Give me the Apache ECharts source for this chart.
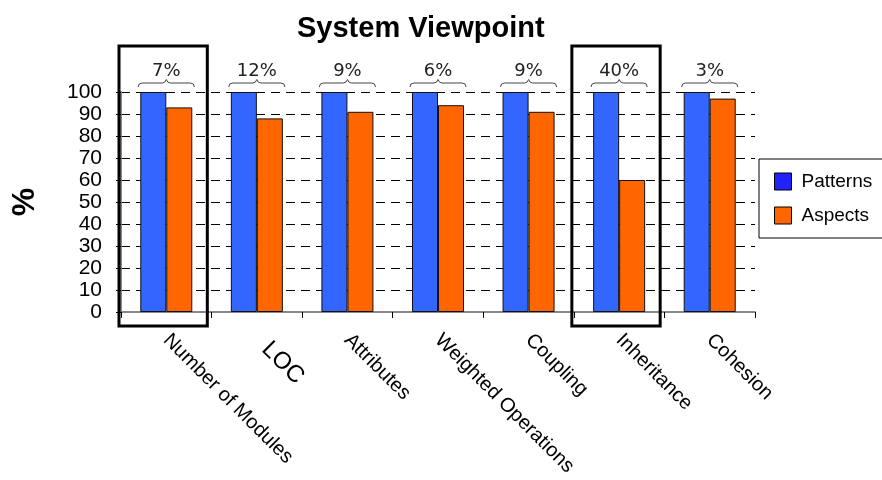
<!DOCTYPE html>
<html>
<head>
<meta charset="utf-8">
<title>System Viewpoint</title>
<script src="https://cdn.jsdelivr.net/npm/echarts@6/dist/echarts.min.js"></script>
<style>
  html, body { margin: 0; padding: 0; background: #fff; }
  #chart { width: 882px; height: 480px; }
</style>
</head>
<body>
<div id="chart"></div>
<script>
// Metric categories along the x axis
const categories = ['Number of Modules', 'LOC', 'Attributes', 'Weighted Operations', 'Coupling', 'Inheritance', 'Cohesion'];
// Percentages for each implementation
const patterns = [100, 100, 100, 100, 100, 100, 100];
const aspects = [93, 88, 91, 94, 91, 60, 97];
// Difference labels shown above each pair of bars
const gapLabels = ['7%', '12%', '9%', '6%', '9%', '40%', '3%'];
// Categories framed with a heavy outline
const highlighted = ['Number of Modules', 'Inheritance'];
// Y axis ticks
const yTicks = [0, 10, 20, 30, 40, 50, 60, 70, 80, 90, 100];

const FONT = '"Liberation Sans", Arial, sans-serif';

const chart = echarts.init(document.getElementById('chart'), null, { renderer: 'canvas' });

const braceData = categories.map((c, i) => [i, patterns[i], gapLabels[i]]);
const boxData = highlighted.map(name => [categories.indexOf(name)]);

function renderBrace(params, api) {
  const p = api.coord([api.value(0), api.value(1)]);
  const x = p[0], y = p[1];
  const h = api.size([1, 0])[0] * 0.31;
  const path = [
    'M', x - h, y - 5,
    'Q', x - h, y - 9, x - h + 4, y - 9,
    'L', x - 4, y - 9,
    'Q', x - 1, y - 9, x, y - 12.5,
    'Q', x + 1, y - 9, x + 4, y - 9,
    'L', x + h - 4, y - 9,
    'Q', x + h, y - 9, x + h, y - 5
  ].join(' ');
  return {
    type: 'group',
    children: [
      {
        type: 'path',
        shape: { pathData: path },
        style: { fill: 'none', stroke: '#444', lineWidth: 1 }
      },
      {
        type: 'text',
        x: x,
        y: y - 21,
        style: {
          text: api.value(2),
          fill: '#222',
          font: '18px "DejaVu Sans", Verdana, sans-serif',
          align: 'center',
          verticalAlign: 'middle'
        }
      }
    ]
  };
}

function renderBox(params, api) {
  const top = api.coord([api.value(0), 100]);
  const bottom = api.coord([api.value(0), 0]);
  const band = api.size([1, 0])[0];
  const w = band * 0.975;
  return {
    type: 'rect',
    shape: {
      x: top[0] - band / 2 - 2,
      y: top[1] - 46,
      width: w,
      height: bottom[1] + 14 - (top[1] - 46)
    },
    style: { fill: 'none', stroke: '#000', lineWidth: 3 }
  };
}

const option = {
  backgroundColor: '#fff',
  animation: false,
  title: {
    text: 'System Viewpoint',
    left: 292,
    top: 9,
    textStyle: { fontFamily: FONT, fontSize: 29, fontWeight: 'bold', color: '#000' }
  },
  legend: {
    data: [
      { name: 'Patterns', itemStyle: { color: '#2222ff', borderColor: '#000', borderWidth: 1 } },
      { name: 'Aspects', itemStyle: { color: '#ff6600', borderColor: '#000', borderWidth: 1 } }
    ],
    orient: 'vertical',
    left: 759,
    top: 159,
    padding: [13, 12, 13, 15],
    itemWidth: 17,
    itemHeight: 17,
    itemGap: 15,
    icon: 'rect',
    borderColor: '#000',
    borderWidth: 1,
    backgroundColor: '#fff',
    textStyle: { fontFamily: FONT, fontSize: 19, color: '#000', padding: [0, 0, 0, 5] }
  },
  grid: { left: 121, right: 127, top: 92, bottom: 168, containLabel: false },
  xAxis: {
    type: 'category',
    data: categories,
    axisLine: { lineStyle: { color: '#888', width: 2 } },
    axisTick: { show: true, length: 6, lineStyle: { color: '#000', width: 1 } },
    axisLabel: {
      rotate: -45,
      margin: 25,
      interval: 0,
      fontFamily: FONT,
      fontSize: 20,
      color: '#000',
      formatter: v => v === 'LOC' ? '{big|' + v + '}' : v,
      rich: { big: { fontFamily: FONT, fontSize: 24, color: '#000', padding: [0, 0, 0, 12] } }
    }
  },
  yAxis: {
    type: 'value',
    min: yTicks[0],
    max: yTicks[yTicks.length - 1],
    interval: 10,
    name: '%',
    nameLocation: 'middle',
    nameGap: 80,
    nameRotate: 90,
    nameTextStyle: { fontFamily: FONT, fontSize: 32, fontWeight: 'bold', color: '#000' },
    axisLine: { show: true, lineStyle: { color: '#888', width: 2 } },
    axisTick: { show: true, length: 5, lineStyle: { color: '#000' } },
    axisLabel: { fontFamily: FONT, fontSize: 21, color: '#000', margin: 19 },
    splitLine: { show: true, lineStyle: { color: '#000', type: [9, 6], width: 1 } }
  },
  series: [
    {
      name: 'Patterns',
      type: 'bar',
      data: patterns,
      barWidth: 26,
      barGap: '0%',
      itemStyle: { color: '#3366ff', borderColor: '#111', borderWidth: 1 }
    },
    {
      name: 'Aspects',
      type: 'bar',
      data: aspects,
      barWidth: 26,
      itemStyle: { color: '#ff6600', borderColor: '#111', borderWidth: 1 }
    },
    {
      name: 'gap',
      type: 'custom',
      data: braceData,
      renderItem: renderBrace,
      clip: false,
      silent: true,
      z: 5
    },
    {
      name: 'frame',
      type: 'custom',
      data: boxData,
      renderItem: renderBox,
      clip: false,
      silent: true,
      z: 6
    }
  ]
};

chart.setOption(option);
</script>
</body>
</html>
